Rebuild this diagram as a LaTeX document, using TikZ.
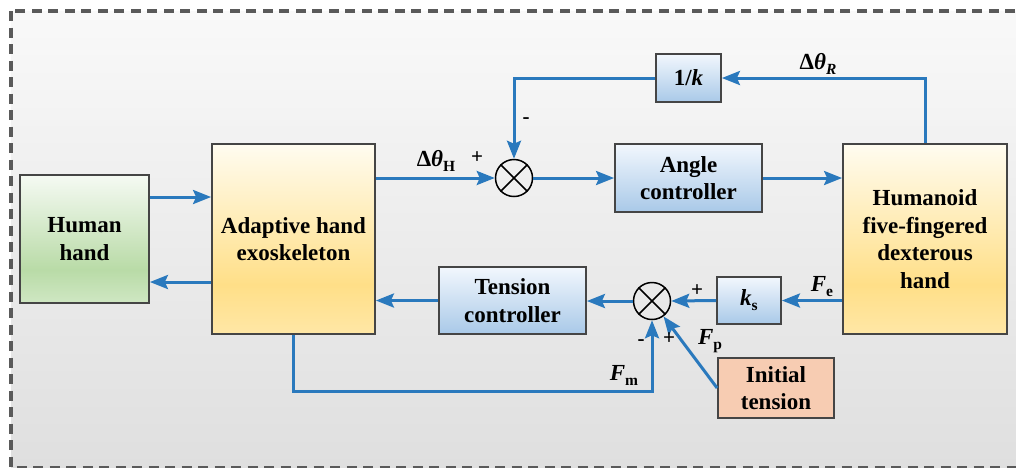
\documentclass[tikz,border=0pt]{standalone}
\usepackage{fontspec}
\setmainfont{Liberation Serif}
\usetikzlibrary{arrows.meta,calc}
\definecolor{lineblue}{HTML}{2A79BD}
\definecolor{boxborder}{HTML}{454545}
\definecolor{dashgrey}{HTML}{5A5A5A}
\definecolor{bgtop}{HTML}{F9F9F9}
\definecolor{bgbot}{HTML}{DFDFDF}
\definecolor{yA}{HTML}{FFE7A6}
\definecolor{yB}{HTML}{FFDF88}
\definecolor{yC}{HTML}{FFFCF0}
\definecolor{gA}{HTML}{CFE7C3}
\definecolor{gB}{HTML}{B9DBA7}
\definecolor{gC}{HTML}{F5FAF3}
\definecolor{bA}{HTML}{A9C9E8}
\definecolor{bC}{HTML}{F2F7FD}
\definecolor{salmon}{HTML}{F7CCB2}
\pgfdeclareverticalshading{yellowsh}{100bp}{color(0bp)=(yA); color(25bp)=(yA); color(38bp)=(yB); color(75bp)=(yC); color(100bp)=(yC)}
\pgfdeclareverticalshading{greensh}{100bp}{color(0bp)=(gA); color(25bp)=(gA); color(38bp)=(gB); color(75bp)=(gC); color(100bp)=(gC)}
\pgfdeclareverticalshading{bluesh}{100bp}{color(0bp)=(bA); color(25bp)=(bA); color(75bp)=(bC); color(100bp)=(bC)}
\newcommand\subsc[1]{\raisebox{-0.22em}{\fontsize{15.5}{15.5}\selectfont #1}}
\tikzset{
  box/.style={draw=boxborder, line width=1.8pt, align=center, inner sep=0pt,
    font=\bfseries\fontsize{23}{27.5}\selectfont},
  yellowbox/.style={box, shading=yellowsh},
  greenbox/.style={box, shading=greensh},
  bluebox/.style={box, shading=bluesh},
  salmonbox/.style={box, fill=salmon},
  sumnode/.style={circle, draw=black, line width=1.5pt, minimum size=37pt, inner sep=0pt},
  arr/.style={draw=lineblue, line width=3pt, -{Stealth[length=18pt,width=14pt,inset=3pt]}},
  lbl/.style={inner sep=0pt, font=\bfseries\fontsize{23}{26}\selectfont},
  sgn/.style={inner sep=0pt, font=\bfseries\fontsize{21}{24}\selectfont}
}
\begin{document}
\begin{tikzpicture}[x=1pt,y=-1pt]
\useasboundingbox (0,0) rectangle (1016,467);
\clip (0,0) rectangle (1016,467);
% background
\shade[top color=bgtop, bottom color=bgbot] (11,11) rectangle (1030,467.5);
\draw[draw=dashgrey, line width=3.4pt, dash pattern=on 10pt off 6.5pt] (11,11) rectangle (1030,467.5);

% blocks
\node[greenbox, minimum width=129pt, minimum height=128pt] (human) at (84.5,239) {Human\\hand};
\node[yellowbox, minimum width=163pt, minimum height=190pt] (exo) at (293.5,239) {Adaptive hand\\exoskeleton};
\node[sumnode] (sum1) at (514,178) {};
\node[bluebox, minimum width=147pt, minimum height=68pt] (angle) at (688.5,178) {Angle\\controller};
\node[bluebox, minimum width=65pt, minimum height=48pt] (inv) at (688.5,78) {1/\textit{k}};
\node[yellowbox, minimum width=164pt, minimum height=190pt] (robot) at (925,239) {Humanoid\\five-fingered\\dexterous\\hand};
\node[bluebox, minimum width=64pt, minimum height=47pt] (ks) at (749,300.5) {\textit{k}\subsc{s}};
\node[sumnode] (sum2) at (652,301) {};
\node[bluebox, minimum width=147pt, minimum height=67pt] (tension) at (512.5,300.5) {Tension\\controller};
\node[salmonbox, minimum width=116pt, minimum height=60pt] (init) at (776,388) {Initial\\tension};

% crosses in summing junctions
\draw[line width=1.5pt] (sum1.north east) -- (sum1.south west) (sum1.north west) -- (sum1.south east);
\draw[line width=1.5pt] (sum2.north east) -- (sum2.south west) (sum2.north west) -- (sum2.south east);

% connectors
\draw[arr] ([yshift=42pt]human.east) -- ([yshift=42pt]exo.west);
\draw[arr] ([yshift=-43pt]exo.west) -- ([yshift=-43pt]human.east);
\draw[arr] (exo.east |- sum1.west) -- (sum1.west);
\draw[arr] (sum1.east) -- (angle.west);
\draw[arr] (angle.east) -- (angle.east -| robot.west);
\draw[arr] (robot.north) |- (inv.east);
\draw[arr] (inv.west) -| (sum1.north);
\draw[arr] (ks.east -| robot.west) -- (ks.east);
\draw[arr] (ks.west) -- (sum2.east);
\draw[arr] (sum2.west) -- (sum2.west -| tension.east);
\draw[arr] (tension.west) -- (tension.west -| exo.east);
\coordinate (fmc) at (293.5,391);
\draw[arr] (exo.south) -- (fmc) -| (sum2.south);
\draw[arr] (init.west) -- (sum2);

% labels
\node[lbl] (lH) at (436,161) {Δ\textit{θ}\subsc{H}};
\node[sgn] (p1) at (477,158) {+};
\node[sgn] (m1) at (526,121) {-};
\node[lbl] (lR) at (818,64) {Δ\textit{θ}\subsc{\textit{R}}};
\node[lbl] (lFe) at (822,287) {\textit{F}\subsc{e}};
\node[sgn] (p2) at (697,291) {+};
\node[sgn] (m2) at (641,343) {-};
\node[sgn] (p3) at (669,339) {+};
\node[lbl] (lFp) at (710,341) {\textit{F}\subsc{p}};
\node[lbl] (lFm) at (624,375) {\textit{F}\subsc{m}};
\end{tikzpicture}
\end{document}
